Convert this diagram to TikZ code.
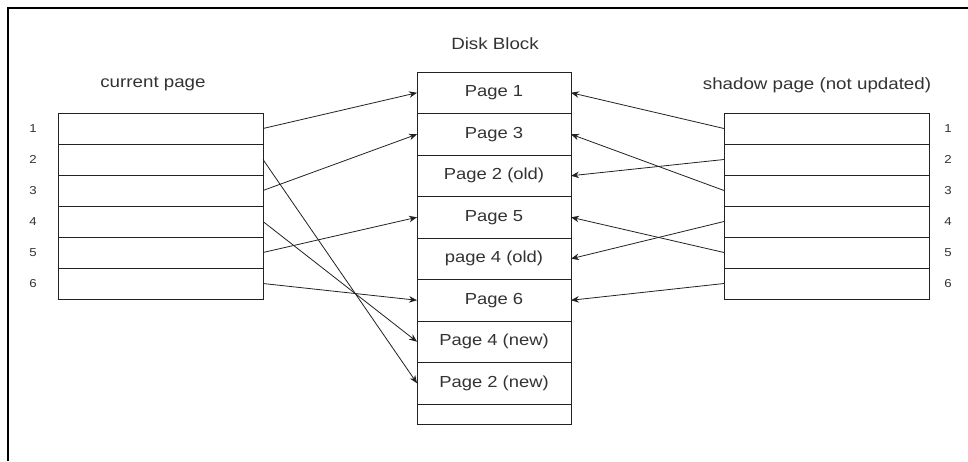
\documentclass[tikz,border=0pt]{standalone}
\usepackage{fontspec}
\setmainfont{Liberation Sans}[FakeStretch=1.15]
\usetikzlibrary{arrows.meta}
\definecolor{txt}{HTML}{333333}
\definecolor{ln}{HTML}{222222}
\tikzset{
  cell/.style={draw=ln, line width=0.9pt, rectangle, inner sep=0pt, outer sep=0pt,
    minimum width=205pt, minimum height=31pt},
  dcell/.style={draw=ln, line width=0.9pt, rectangle, inner sep=0pt, outer sep=0pt,
    minimum width=154pt, minimum height=41.5pt, text=txt, font=\fontsize{16}{19}\selectfont},
  lbl/.style={text=txt, font=\fontsize{16.3}{19}\selectfont, inner sep=0pt},
  num/.style={text=txt, font=\fontsize{11.5}{13}\selectfont, inner sep=0pt},
  arr/.style={draw=ln, line width=0.8pt, -{Stealth[length=8pt,width=6.5pt]}}
}
\begin{document}
\begin{tikzpicture}[x=1pt,y=-1pt]
\useasboundingbox (0,0) rectangle (968,461);
\fill[white] (0,0) rectangle (968,461);
\draw[line width=1.2pt, black] (8,461) -- (8,8) -- (968,8);

% labels
\node[lbl] (lcap) at (153,84) {current page};
\node[lbl] (mcap) at (495,44) {Disk Block};
\node[lbl] (rcap) at (817,85) {shadow page (not updated)};

% left table
\foreach \i in {1,...,6}{
  \node[cell] (L\i) at (160.5,{128.5+31*(\i-1)}) {};
  \node[num] (LN\i) at (33,{128.5+31*(\i-1)}) {\i};
}
% right table
\foreach \i in {1,...,6}{
  \node[cell] (R\i) at (826.5,{128.5+31*(\i-1)}) {};
  \node[num] (RN\i) at (948,{128.5+31*(\i-1)}) {\i};
}

% disk block
\node[dcell] (M1) at (494,92.75) {Page 1};
\node[dcell] (M2) at (494,134.25) {Page 3};
\node[dcell] (M3) at (494,175.75) {Page 2 (old)};
\node[dcell] (M4) at (494,217.25) {Page 5};
\node[dcell] (M5) at (494,258.75) {page 4 (old)};
\node[dcell] (M6) at (494,300.25) {Page 6};
\node[dcell] (M7) at (494,341.75) {Page 4 (new)};
\node[dcell] (M8) at (494,383.25) {Page 2 (new)};
\node[dcell, minimum height=20pt] (M9) at (494,414) {};

% left arrows
\draw[arr] (L1.east) -- (M1.west);
\draw[arr] (L2.east) -- (M8.west);
\draw[arr] (L3.east) -- (M2.west);
\draw[arr] (L4.east) -- (M7.west);
\draw[arr] (L5.east) -- (M4.west);
\draw[arr] (L6.east) -- (M6.west);

% right arrows
\draw[arr] (R1.west) -- (M1.east);
\draw[arr] (R2.west) -- (M3.east);
\draw[arr] (R3.west) -- (M2.east);
\draw[arr] (R4.west) -- (M5.east);
\draw[arr] (R5.west) -- (M4.east);
\draw[arr] (R6.west) -- (M6.east);
\end{tikzpicture}
\end{document}
